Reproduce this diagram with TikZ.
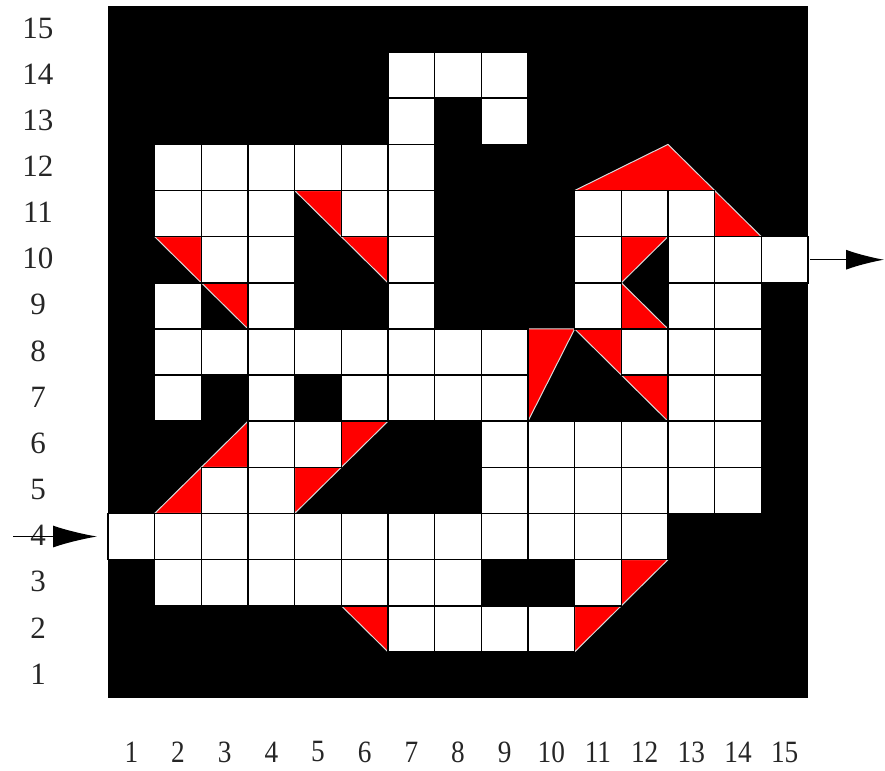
\documentclass[tikz,border=0pt]{standalone}
\usepackage{fontspec}
\setmainfont{Liberation Serif}
\usetikzlibrary{arrows.meta}
\begin{document}
\begin{tikzpicture}[x=0.5pt,y=0.5pt,
  cellw/.style={fill=white,draw=black,line width=0.8pt},
  redtri/.style={fill=red,draw=gray!30,line width=0.5pt,line join=round},
  lbl/.style={font=\fontsize{15.5}{16}\selectfont,inner sep=0pt,text=black!85},
  arr/.style={line width=0.7pt}]
\useasboundingbox (0,0) rectangle (885,771);
% black field
\fill[black] (108,73) rectangle (808,765);
\begin{scope}[shift={(54pt,36.5pt)},x=23.3333pt,y=23.0667pt]
  % red triangles
  \foreach \p in {
    {(10,11) -- (12,12) -- (13,11)},
    {(13,11) -- (13,10) -- (14,10)},
    {(4,11) -- (5,11) -- (5,10)},
    {(1,10) -- (2,10) -- (2,9)},
    {(5,10) -- (6,10) -- (6,9)},
    {(11,10) -- (12,10) -- (11,9)},
    {(2,9) -- (3,9) -- (3,8)},
    {(11,9) -- (11,8) -- (12,8)},
    {(9,8) -- (10,8) -- (9,6)},
    {(10,8) -- (11,8) -- (11,7)},
    {(11,7) -- (12,7) -- (12,6)},
    {(3,6) -- (3,5) -- (2,5)},
    {(5,6) -- (6,6) -- (5,5)},
    {(2,5) -- (2,4) -- (1,4)},
    {(4,5) -- (5,5) -- (4,4)},
    {(11,3) -- (12,3) -- (11,2)},
    {(5,2) -- (6,2) -- (6,1)},
    {(10,2) -- (11,2) -- (10,1)}}
    \draw[redtri] \p -- cycle;
  % white cells
  \foreach \r/\cols in {
    14/{7,8,9},
    13/{7,9},
    12/{2,3,4,5,6,7},
    11/{2,3,4,6,7,11,12,13},
    10/{3,4,7,11,13,14,15},
    9/{2,4,7,11,13,14},
    8/{2,3,4,5,6,7,8,9,12,13,14},
    7/{2,4,6,7,8,9,13,14},
    6/{4,5,9,10,11,12,13,14},
    5/{3,4,9,10,11,12,13,14},
    4/{1,2,3,4,5,6,7,8,9,10,11,12},
    3/{2,3,4,5,6,7,8,11},
    2/{7,8,9,10}}
    \foreach \c in \cols
      \draw[cellw] (\c-1,\r-1) rectangle (\c,\r);
  \coordinate (entry) at (0,3.5);
  \coordinate (exit) at (15,9.5);
\end{scope}
% row labels
\foreach \r in {1,...,15}
  \node[lbl] (row\r) at (38,{73+(\r-0.5)*46.1333+1}) {\r};
% column labels
\foreach \c in {1,...,15}
  \node[lbl] (col\c) at ({108+(\c-0.5)*46.6667},19) {\scalebox{0.88}[1]{\c}};
% arrows
\draw[arr,-{Latex[length=22pt,width=11pt]}] ([xshift=-47.5pt]entry) -- ([xshift=-5.5pt]entry);
\draw[arr,-{Latex[length=19pt,width=10pt]}] ([xshift=1pt]exit) -- ([xshift=38pt]exit);
\end{tikzpicture}
\end{document}
